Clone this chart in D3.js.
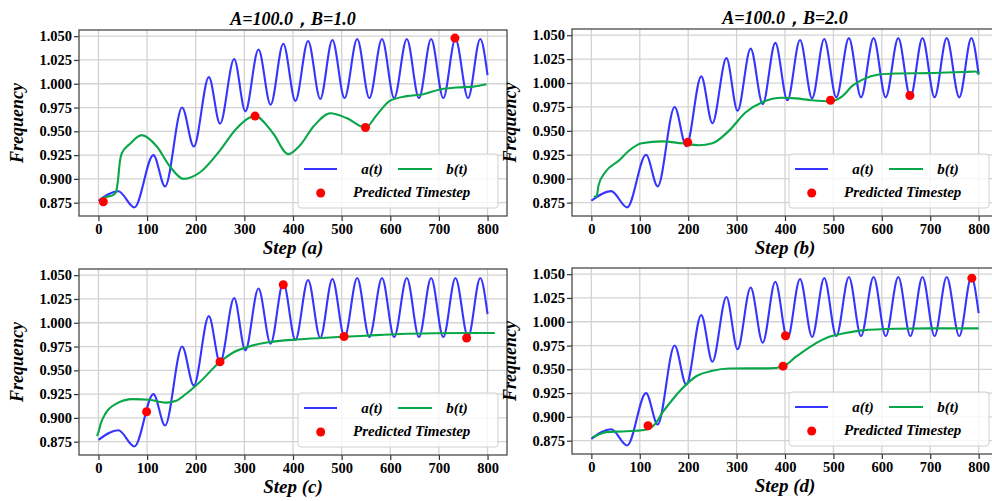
<!DOCTYPE html>
<meta charset="utf-8">
<script src="https://cdn.jsdelivr.net/npm/d3@7"></script>
<style>
  body { margin: 0; background: #fff; }
  text { font-family: "Liberation Serif", "Times New Roman", serif; font-weight: bold; }
</style>
<div id="chart"></div>
<script>

// tick values
var xTicks = [0, 100, 200, 300, 400, 500, 600, 700, 800];
var yTicks = [0.875, 0.900, 0.925, 0.950, 0.975, 1.000, 1.025, 1.050];

// a(t): the same oscillating curve in every panel (read at its turning points)
var aSteps = [0, 41, 74, 113, 137, 172, 196, 227, 250, 279, 302, 329, 354, 380, 405, 431, 456, 481, 506, 532, 557, 583, 608, 634, 659, 684, 709, 734, 760, 785, 800];
var aFreq  = [0.877, 0.887, 0.870, 0.925, 0.892, 0.975, 0.934, 1.007, 0.958, 1.026, 0.971, 1.036, 0.978, 1.042, 0.982, 1.045, 0.984, 1.046, 0.985, 1.047, 0.985, 1.047, 0.985, 1.047, 0.985, 1.047, 0.985, 1.047, 0.985, 1.047, 1.009];

// b(t) for each panel
var bStepsA = [4, 15, 30, 36, 40, 44, 48, 65, 89, 120, 147, 175, 209, 250, 284, 322, 359, 390, 414, 442, 477, 510, 549, 572, 599, 634, 668, 702, 736, 771, 798];
var bFreqA  = [0.879, 0.881, 0.883, 0.886, 0.898, 0.918, 0.927, 0.937, 0.946, 0.934, 0.913, 0.900, 0.907, 0.930, 0.953, 0.966, 0.948, 0.926, 0.935, 0.955, 0.969, 0.964, 0.954, 0.967, 0.982, 0.987, 0.989, 0.994, 0.996, 0.997, 0.9995];

var bStepsB = [5, 11, 15, 29, 57, 77, 104, 146, 187, 222, 250, 284, 319, 353, 394, 422, 456, 494, 518, 539, 560, 594, 628, 697, 766, 794, 800];
var bFreqB  = [0.881, 0.882, 0.8935, 0.907, 0.919, 0.929, 0.937, 0.939, 0.937, 0.935, 0.937, 0.950, 0.9695, 0.980, 0.9846, 0.984, 0.982, 0.981, 0.986, 0.997, 1.0036, 1.009, 1.010, 1.0104, 1.0115, 1.012, 1.009];

var bStepsC = [-3, 0, 5, 15, 36, 70, 105, 140, 160, 181, 209, 250, 278, 312, 346, 415, 484, 552, 621, 690, 758, 815];
var bFreqC  = [0.881, 0.885, 0.8945, 0.905, 0.9147, 0.9197, 0.919, 0.916, 0.918, 0.9256, 0.938, 0.959, 0.969, 0.9754, 0.9792, 0.9826, 0.9847, 0.9865, 0.9882, 0.989, 0.9893, 0.9893];

var bStepsD = [2, 9, 30, 64, 92, 117, 133, 146, 167, 188, 215, 250, 284, 325, 367, 396, 422, 456, 490, 525, 559, 628, 697, 800];
var bFreqD  = [0.8785, 0.880, 0.884, 0.8847, 0.8854, 0.887, 0.8934, 0.9039, 0.9178, 0.930, 0.9422, 0.9484, 0.9509, 0.951, 0.951, 0.953, 0.963, 0.975, 0.9839, 0.9881, 0.9909, 0.9926, 0.993, 0.993];

// predicted timesteps (red dots)
var predStepsA = [10, 322, 549, 733];
var predFreqA  = [0.876, 0.966, 0.954, 1.048];
var predStepsB = [199, 494, 658];
var predFreqB  = [0.938, 0.982, 0.987];
var predStepsC = [99, 250, 380, 505, 757];
var predFreqC  = [0.9065, 0.959, 1.040, 0.9856, 0.984];
var predStepsD = [117, 396, 401, 786];
var predFreqD  = [0.8907, 0.9533, 0.9853, 1.0458];

var titles = ["A=100.0，B=1.0", "A=100.0，B=2.0", "", ""];
var xLabels = ["Step (a)", "Step (b)", "Step (c)", "Step (d)"];

function zip(xs, ys) { return xs.map(function(d, i) { return [d, ys[i]]; }); }

var panels = [
  {left: 79,  top: 30,  right: 507, bottom: 216, b: zip(bStepsA, bFreqA), p: zip(predStepsA, predFreqA)},
  {left: 572, top: 29,  right: 998, bottom: 216, b: zip(bStepsB, bFreqB), p: zip(predStepsB, predFreqB)},
  {left: 79,  top: 269, right: 507, bottom: 455, b: zip(bStepsC, bFreqC), p: zip(predStepsC, predFreqC)},
  {left: 572, top: 268, right: 998, bottom: 454, b: zip(bStepsD, bFreqD), p: zip(predStepsD, predFreqD)}
];

var blue = "#3535ff", green = "#0aa64a";
var aData = zip(aSteps, aFreq);

var svg = d3.select("#chart").append("svg")
    .attr("width", 992)
    .attr("height", 501);

panels.forEach(function(pn, i) {
  var w = pn.right - pn.left, h = pn.bottom - pn.top;
  var x = d3.scaleLinear().domain([-40, 840]).range([0, w]);
  var y = d3.scaleLinear().domain([0.861, 1.0565]).range([h, 0]);

  var g = svg.append("g").attr("transform", "translate(" + pn.left + "," + pn.top + ")");

  g.append("clipPath").attr("id", "clip" + i)
    .append("rect").attr("width", w).attr("height", h);

  // grid
  g.selectAll(".gx").data(xTicks).enter().append("line")
      .attr("x1", function(d) { return x(d); }).attr("x2", function(d) { return x(d); })
      .attr("y1", 0).attr("y2", h)
      .style("stroke", "#d3d3d3").style("stroke-width", 1.3);
  g.selectAll(".gy").data(yTicks).enter().append("line")
      .attr("y1", function(d) { return y(d); }).attr("y2", function(d) { return y(d); })
      .attr("x1", 0).attr("x2", w)
      .style("stroke", "#d3d3d3").style("stroke-width", 1.3);

  // axes
  var xa = g.append("g").attr("transform", "translate(0," + h + ")")
      .call(d3.axisBottom(x).tickValues(xTicks).tickSize(5).tickPadding(3).tickFormat(d3.format("d")));
  var ya = g.append("g")
      .call(d3.axisLeft(y).tickValues(yTicks).tickSize(5).tickPadding(2).tickFormat(d3.format(".3f")));
  [xa, ya].forEach(function(a) {
    a.select(".domain").remove();
    a.selectAll("line").style("stroke", "#333").style("stroke-width", 1.2);
    a.selectAll("text").style("font-size", "14.5px").style("fill", "#000")
      .style("font-family", '"Liberation Serif", serif').style("font-weight", "bold");
  });

  var line = d3.line()
      .x(function(d) { return x(d[0]); })
      .y(function(d) { return y(d[1]); })
      .curve(d3.curveMonotoneX);

  var plot = g.append("g").attr("clip-path", "url(#clip" + i + ")");
  plot.append("path").datum(aData).attr("d", line)
      .style("fill", "none").style("stroke", blue).style("stroke-width", 2.1);
  plot.append("path").datum(pn.b).attr("d", line)
      .style("fill", "none").style("stroke", green).style("stroke-width", 2.1);
  plot.selectAll("circle").data(pn.p).enter().append("circle")
      .attr("cx", function(d) { return x(d[0]); })
      .attr("cy", function(d) { return y(d[1]); })
      .attr("r", 4.5)
      .style("fill", "red");

  // frame
  g.append("rect").attr("width", w).attr("height", h)
      .style("fill", "none").style("stroke", "#4a4a4a").style("stroke-width", 1.3);

  // legend
  var lg = g.append("g").attr("transform", "translate(" + (w - 209) + "," + (h - 62) + ")");
  lg.append("rect").attr("width", 200).attr("height", 54).attr("rx", 3)
      .style("fill", "white").style("fill-opacity", 0.8)
      .style("stroke", "#d0d0d0").style("stroke-width", 1);
  lg.append("line").attr("x1", 6).attr("x2", 39).attr("y1", 15).attr("y2", 15)
      .style("stroke", blue).style("stroke-width", 2.1);
  lg.append("line").attr("x1", 100).attr("x2", 134).attr("y1", 15).attr("y2", 15)
      .style("stroke", green).style("stroke-width", 2.1);
  lg.append("circle").attr("cx", 22.7).attr("cy", 39).attr("r", 4.5).style("fill", "red");
  lg.append("text").attr("x", 74).attr("y", 20).attr("text-anchor", "middle")
      .style("font-style", "italic").style("font-size", "15px").text("a(t)");
  lg.append("text").attr("x", 159).attr("y", 20).attr("text-anchor", "middle")
      .style("font-style", "italic").style("font-size", "15px").text("b(t)");
  lg.append("text").attr("x", 55).attr("y", 43)
      .style("font-style", "italic").style("font-size", "15px").text("Predicted Timestep");

  // labels
  g.append("text").attr("x", w / 2).attr("y", h + 38).attr("text-anchor", "middle")
      .style("font-style", "italic").style("font-size", "19px").text(xLabels[i]);
  g.append("text").attr("transform", "translate(" + (-56) + "," + (h / 2) + ") rotate(-90)")
      .attr("text-anchor", "middle")
      .style("font-style", "italic").style("font-size", "18px").text("Frequency");
  if (titles[i]) {
    g.append("text").attr("x", w / 2).attr("y", -5).attr("text-anchor", "middle")
        .style("font-style", "italic").style("font-size", "18px").text(titles[i]);
  }
});
</script>
